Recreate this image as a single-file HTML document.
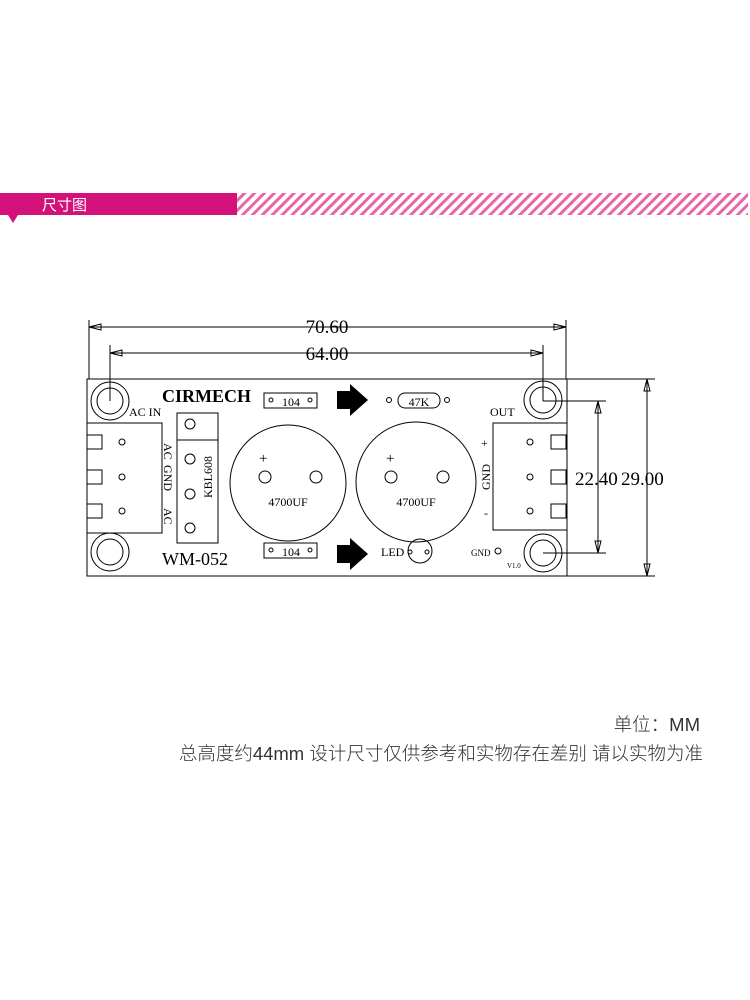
<!DOCTYPE html>
<html><head><meta charset="utf-8"><style>
body{margin:0;width:750px;height:1000px;background:#fff;position:relative;overflow:hidden;font-family:"Liberation Sans","Noto Sans CJK SC",sans-serif}
.t{position:absolute;right:47px;color:#333;font-size:18.5px;white-space:nowrap;font-weight:300}
</style></head><body>
<svg width="750" height="1000" style="position:absolute;left:0;top:0">
<defs><pattern id="st" width="7" height="7" patternUnits="userSpaceOnUse" patternTransform="rotate(45)"><rect width="3" height="7" fill="#e866a8"/></pattern></defs>
<rect x="237" y="193" width="511" height="22" fill="url(#st)"/>
<rect x="0" y="193" width="237" height="22" fill="#d4117a"/>
<polygon points="8,215 18,215 13,223" fill="#d4117a"/>
<text x="42" y="210" fill="#fff" font-size="15" font-family="Noto Sans CJK SC,sans-serif">尺寸图</text>
<g stroke="#000" fill="none" stroke-width="1" font-family="Liberation Serif,serif">
<line x1="89" y1="320" x2="89" y2="379"/><line x1="566" y1="320" x2="566" y2="379"/>
<line x1="110" y1="345" x2="110" y2="401"/><line x1="543" y1="345" x2="543" y2="401"/>
<line x1="89" y1="327" x2="566" y2="327"/><line x1="110" y1="353" x2="543" y2="353"/>
<polygon points="89,327 101,324 101,330"/><polygon points="566,327 554,324 554,330"/>
<polygon points="110,353 122,350 122,356"/><polygon points="543,353 531,350 531,356"/>
<line x1="567" y1="379" x2="655" y2="379"/><line x1="567" y1="576" x2="655" y2="576"/>
<line x1="543" y1="401" x2="606" y2="401"/><line x1="543" y1="553" x2="606" y2="553"/>
<line x1="598" y1="401" x2="598" y2="553"/><line x1="647" y1="379" x2="647" y2="576"/>
<polygon points="598,401 595,413 601,413"/><polygon points="598,553 595,541 601,541"/>
<polygon points="647,379 644,391 650,391"/><polygon points="647,576 644,564 650,564"/>
<rect x="87" y="379" width="480" height="197"/>
<circle cx="110" cy="401" r="19"/><circle cx="110" cy="401" r="13"/>
<circle cx="110" cy="552" r="19"/><circle cx="110" cy="552" r="13"/>
<circle cx="543" cy="400" r="19"/><circle cx="543" cy="400" r="13"/>
<circle cx="543" cy="553" r="19"/><circle cx="543" cy="553" r="13"/>
<rect x="87" y="423" width="75" height="110"/>
<rect x="87" y="435" width="15" height="14"/><rect x="87" y="470" width="15" height="14"/><rect x="87" y="504" width="15" height="14"/>
<circle cx="122" cy="442" r="3"/><circle cx="122" cy="477" r="3"/><circle cx="122" cy="511" r="3"/>
<rect x="177" y="413" width="41" height="130"/><line x1="177" y1="440" x2="218" y2="440"/>
<circle cx="190" cy="424" r="5"/><circle cx="190" cy="459" r="5"/><circle cx="190" cy="494" r="5"/><circle cx="190" cy="528" r="5"/>
<rect x="264" y="393" width="53" height="15"/><rect x="264" y="543" width="53" height="15"/>
<circle cx="271" cy="400" r="2"/><circle cx="310" cy="400" r="2"/><circle cx="271" cy="550" r="2"/><circle cx="310" cy="550" r="2"/>
<circle cx="288" cy="483" r="58"/><circle cx="416" cy="482" r="60"/>
<circle cx="265" cy="477" r="6"/><circle cx="316" cy="477" r="6"/>
<circle cx="391" cy="477" r="6"/><circle cx="443" cy="477" r="6"/>
<rect x="398" y="393" width="42" height="15" rx="7"/><circle cx="389" cy="400" r="2.5"/><circle cx="447" cy="400" r="2.5"/>
<circle cx="420" cy="551" r="12"/><circle cx="410" cy="552" r="2"/><circle cx="427" cy="552" r="2"/>
<circle cx="498" cy="551" r="3"/>
<rect x="493" y="423" width="74" height="107"/>
<rect x="551" y="435" width="15" height="14"/><rect x="551" y="470" width="15" height="14"/><rect x="551" y="504" width="15" height="14"/>
<circle cx="530" cy="442" r="3"/><circle cx="530" cy="477" r="3"/><circle cx="530" cy="511" r="3"/>
</g>
<polygon points="337,391 350,391 350,384 368,400 350,416 350,409 337,409" fill="#000"/>
<polygon points="337,545 350,545 350,538 368,554 350,570 350,563 337,563" fill="#000"/>
<g font-family="Liberation Serif,serif" fill="#000">
<text x="327" y="333" font-size="19" text-anchor="middle">70.60</text>
<text x="327" y="360" font-size="19" text-anchor="middle">64.00</text>
<text x="575" y="485" font-size="19">22.40</text><text x="621" y="485" font-size="19">29.00</text>
<text x="162" y="402" font-size="18" font-weight="bold">CIRMECH</text>
<text x="162" y="565" font-size="18">WM-052</text>
<text x="129" y="416" font-size="12">AC IN</text>
<text x="490" y="416" font-size="12">OUT</text>
<text x="291" y="406" font-size="12" text-anchor="middle">104</text>
<text x="291" y="556" font-size="12" text-anchor="middle">104</text>
<text x="419" y="406" font-size="12" text-anchor="middle">47K</text>
<text x="288" y="506" font-size="12" text-anchor="middle">4700UF</text>
<text x="416" y="506" font-size="12" text-anchor="middle">4700UF</text>
<text x="259" y="463" font-size="15">+</text><text x="386" y="463" font-size="15">+</text>
<text x="381" y="556" font-size="12">LED</text>
<text x="471" y="556" font-size="9">GND</text>
<text x="507" y="568" font-size="7">V1.0</text>
<text x="481" y="447" font-size="12">+</text><text x="484" y="517" font-size="12">-</text>
<text transform="translate(164,443) rotate(90)" font-size="12">AC</text>
<text transform="translate(164,465) rotate(90)" font-size="12">GND</text>
<text transform="translate(164,508) rotate(90)" font-size="12">AC</text>
<text transform="translate(212,498) rotate(-90)" font-size="12">KBL608</text>
<text transform="translate(490,490) rotate(-90)" font-size="12">GND</text>
</g>
</svg>
<div class="t" style="top:711px;right:50px">单位：MM</div>
<div class="t" style="top:740px">总高度约44mm 设计尺寸仅供参考和实物存在差别 请以实物为准</div>
</body></html>
